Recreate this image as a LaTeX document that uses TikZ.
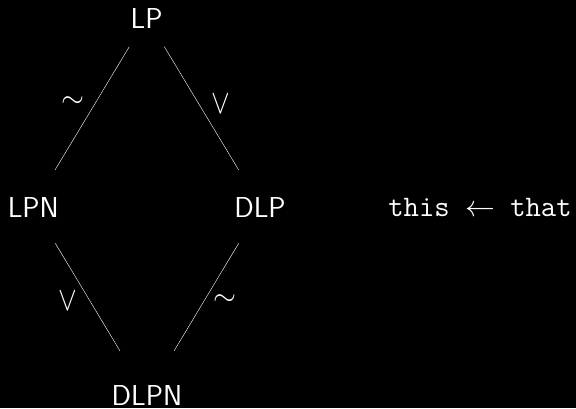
\RequirePackage{fix-cm}
\documentclass[tikz,border=0pt]{standalone}
\usepackage{fontspec}
\begin{document}
\begin{tikzpicture}[x=1pt,y=-1pt,
  lbl/.style={inner sep=0pt,text=white,font=\sffamily\fontsize{28.8}{34}\selectfont,anchor=base},
  edgelbl/.style={inner sep=0pt,text=white,font=\fontsize{29.5}{34}\selectfont},
  conn/.style={draw=white,line width=0.4pt}]
\fill[black] (0,0) rectangle (576,408);
\useasboundingbox (0,0) rectangle (576,408);
\node[lbl] (LP) at (146.7,28.3) {LP};
\node[lbl] (LPN) at (33.3,217) {LPN};
\node[lbl] (DLP) at (260,217) {DLP};
\node[lbl] (DLPN) at (147,405.5) {DLPN};
\node[lbl,font=\ttfamily\fontsize{29.8}{34}\selectfont] (rel) at (480,216) {this $\leftarrow$ that};
\draw[conn] ([shift={(-17.4,18.4)}]LP.base) -- ([shift={(21.7,-47)}]LPN.base);
\draw[conn] ([shift={(17.6,18.4)}]LP.base) -- ([shift={(-21.3,-47)}]DLP.base);
\draw[conn] ([shift={(22,26.3)}]LPN.base) -- ([shift={(-27,-54.5)}]DLPN.base);
\draw[conn] ([shift={(-21.3,26.3)}]DLP.base) -- ([shift={(27,-54.5)}]DLPN.base);
\node[edgelbl] (l1) at (73.3,102.3) {$\sim$};
\node[edgelbl] (l2) at (220.5,104.5) {\scalebox{0.95}[1.15]{$\vee$}};
\node[edgelbl] (l3) at (68.3,301) {\scalebox{0.95}[1.15]{$\vee$}};
\node[edgelbl] (l4) at (225,300) {$\sim$};
\end{tikzpicture}
\end{document}
